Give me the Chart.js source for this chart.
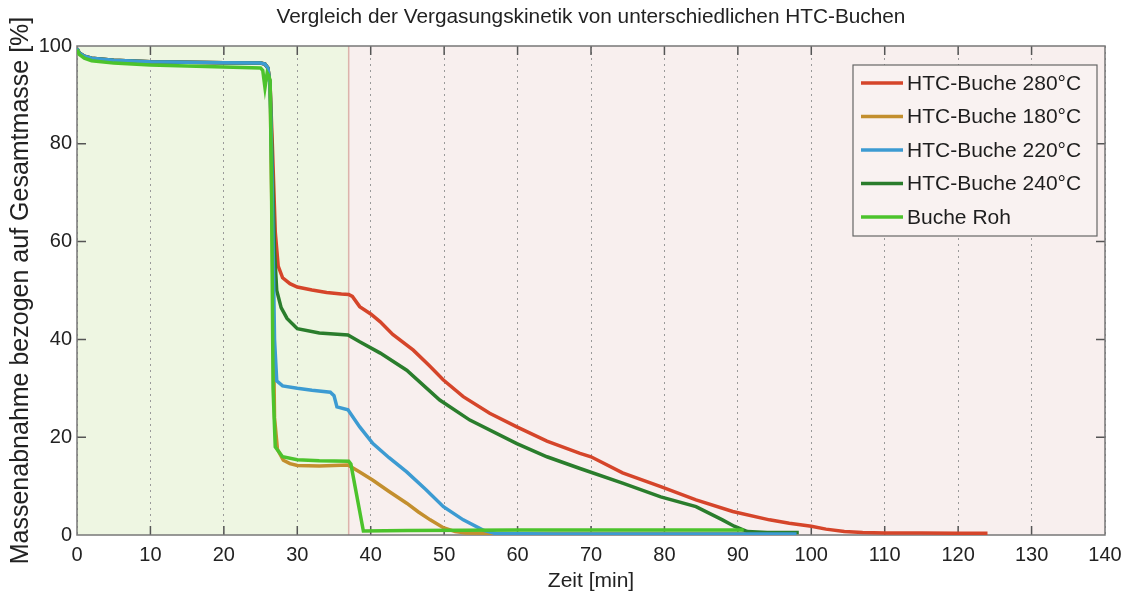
<!DOCTYPE html>
<html>
<head>
<meta charset="utf-8">
<script src="https://cdn.jsdelivr.net/npm/chart.js@4.4.0/dist/chart.umd.min.js"></script>
<style>
  html, body { margin: 0; padding: 0; background: #fff; }
  #wrap { width: 1134px; height: 597px; }
</style>
</head>
<body>
<div id="wrap"><canvas id="vergasung"></canvas></div>
<script>
// Vergleich der Vergasungskinetik - Massenabnahme über Zeit

const chartTitle = 'Vergleich der Vergasungskinetik von unterschiedlichen HTC-Buchen';
const xTitle = 'Zeit [min]';
const yTitle = 'Massenabnahme bezogen auf Gesamtmasse [%]';
const phaseSwitch = 37; // Wechsel grüner / roter Bereich [min]

const labels = ['HTC-Buche 280°C', 'HTC-Buche 180°C', 'HTC-Buche 220°C', 'HTC-Buche 240°C', 'Buche Roh'];
const colors = ['#d5452a', '#c38f2e', '#3c9bd2', '#2a7d2c', '#4cc32c'];

// HTC-Buche 280°C
const t280 = [0, 0.3, 1, 2, 5, 10, 15, 20, 25, 25.6, 26.0, 26.3, 26.6, 27.0, 27.4, 28, 29, 30, 32, 34, 36, 37, 37.5, 38.5, 40, 41.3, 43, 45.8, 48, 49.9, 52.6, 56.2, 59.9, 64, 68.5, 70, 74.3, 79.5, 84.3, 89.3, 94.3, 97, 100, 102, 104.5, 107, 110, 115, 120, 124];
const m280 = [99.5, 98.6, 97.9, 97.5, 97.1, 96.8, 96.7, 96.6, 96.5, 96.3, 95.5, 92, 80, 62, 55, 52.6, 51.4, 50.7, 50.1, 49.6, 49.3, 49.2, 48.8, 46.7, 45.2, 43.6, 41, 37.8, 34.6, 31.7, 28.3, 24.9, 22.1, 19.2, 16.7, 16.0, 12.7, 9.9, 7.2, 4.8, 3.1, 2.4, 1.8, 1.2, 0.7, 0.5, 0.4, 0.4, 0.35, 0.35];

// HTC-Buche 180°C
const t180 = [0, 0.3, 1, 2, 5, 10, 15, 20, 25, 25.6, 26.0, 26.3, 26.6, 26.9, 27.3, 28.1, 29, 30, 33, 36.9, 38.5, 40.3, 42.5, 44.9, 46.5, 48.1, 49.9, 51.5, 53, 60, 70, 80, 90, 98];
const m180 = [99.5, 98.6, 97.9, 97.5, 97.1, 96.8, 96.7, 96.6, 96.5, 96.3, 95.5, 92, 60, 24, 17.5, 15.3, 14.6, 14.2, 14.1, 14.3, 12.9, 11.2, 8.9, 6.5, 4.7, 3.1, 1.5, 0.7, 0.4, 0.3, 0.3, 0.3, 0.3, 0.3];

// HTC-Buche 220°C
const t220 = [0, 0.3, 1, 2, 5, 10, 15, 20, 25, 25.6, 26.0, 26.3, 26.6, 26.9, 27.2, 28, 30, 32, 34.5, 35.0, 35.4, 36.9, 38.5, 40.3, 42.5, 44.9, 47.5, 49.9, 52.6, 55.3, 57, 65, 75, 85, 98];
const m220 = [99.5, 98.6, 97.9, 97.5, 97.1, 96.8, 96.7, 96.6, 96.5, 96.3, 95.5, 92, 70, 40, 31.5, 30.5, 30, 29.6, 29.2, 28.5, 26.2, 25.6, 22.1, 18.7, 15.8, 12.9, 9.3, 5.8, 3.1, 1.0, 0.3, 0.2, 0.2, 0.2, 0.2];

// HTC-Buche 240°C
const t240 = [0, 0.3, 1, 2, 5, 10, 15, 20, 25, 25.6, 26.0, 26.3, 26.6, 26.9, 27.2, 27.8, 28.6, 30, 33, 36.9, 38.5, 41.3, 44.9, 49.4, 53.5, 59.9, 64, 68.5, 74.3, 79.5, 84.3, 87.9, 89.5, 91.3, 94, 98.3];
const m240 = [99.5, 98.6, 97.9, 97.5, 97.1, 96.8, 96.7, 96.6, 96.5, 96.3, 95.5, 92, 75, 58, 50, 46.5, 44.3, 42.2, 41.3, 40.9, 39.5, 37.2, 33.7, 27.6, 23.5, 18.7, 16.0, 13.6, 10.6, 7.8, 5.8, 3.1, 1.8, 0.7, 0.5, 0.5];

// Buche Roh
const tRoh = [0, 0.3, 1, 2, 5, 10, 15, 20, 25, 25.3, 25.6, 25.9, 26.1, 26.3, 26.5, 26.7, 27.0, 28, 30, 33, 37, 37.3, 39, 45, 60, 75, 90.8];
const mRoh = [99.3, 98.3, 97.5, 97.0, 96.5, 96.1, 95.9, 95.7, 95.5, 95.0, 91.5, 94.5, 94, 93, 70, 30, 18, 16, 15.4, 15.2, 15.1, 14.5, 0.8, 0.9, 1.0, 1.0, 1.0];

const series = [[t280, m280], [t180, m180], [t220, m220], [t240, m240], [tRoh, mRoh]];
const drawOrder = [2, 3, 1, 1, 0]; // Roh oben

const xTicks = [0, 10, 20, 30, 40, 50, 60, 70, 80, 90, 100, 110, 120, 130, 140];
const yTicks = [0, 20, 40, 60, 80, 100];

const fontFamily = '"Liberation Sans", Arial, sans-serif';

const backdrop = {
    id: 'backdrop',
    beforeDraw(chart) {
        const { ctx, chartArea: a, scales: { x } } = chart;
        const xs = x.getPixelForValue(phaseSwitch);
        ctx.save();
        ctx.fillStyle = '#eef6e2';
        ctx.fillRect(a.left, a.top, xs - a.left, a.bottom - a.top);
        ctx.fillStyle = '#f8efee';
        ctx.fillRect(xs, a.top, a.right - xs, a.bottom - a.top);
        // Titel mittig über der Zeichenfläche
        ctx.fillStyle = '#222';
        ctx.font = '20.8px ' + fontFamily;
        ctx.textAlign = 'center';
        ctx.textBaseline = 'middle';
        ctx.fillText(chartTitle, (a.left + a.right) / 2, 17);
        ctx.restore();
    },
    beforeDatasetsDraw(chart) {
        const { ctx, chartArea: a, scales: { x, y } } = chart;
        ctx.save();
        // Trennlinie
        const xs = x.getPixelForValue(phaseSwitch);
        ctx.strokeStyle = '#dcb3ab';
        ctx.lineWidth = 1.5;
        ctx.beginPath();
        ctx.moveTo(xs, a.top);
        ctx.lineTo(xs, a.bottom);
        ctx.stroke();
        // innere Tickmarken
        ctx.strokeStyle = '#555';
        ctx.lineWidth = 1.5;
        ctx.beginPath();
        xTicks.slice(1, -1).forEach(v => {
            const px = x.getPixelForValue(v);
            ctx.moveTo(px, a.bottom); ctx.lineTo(px, a.bottom - 9);
            ctx.moveTo(px, a.top); ctx.lineTo(px, a.top + 9);
        });
        yTicks.slice(1, -1).forEach(v => {
            const py = y.getPixelForValue(v);
            ctx.moveTo(a.left, py); ctx.lineTo(a.left + 9, py);
            ctx.moveTo(a.right, py); ctx.lineTo(a.right - 9, py);
        });
        ctx.stroke();
        // Rahmen
        ctx.strokeStyle = '#777';
        ctx.lineWidth = 1.5;
        ctx.strokeRect(a.left, a.top, a.right - a.left, a.bottom - a.top);
        ctx.restore();
    },
    afterDraw(chart) {
        // Legende oben rechts
        const { ctx } = chart;
        const bx = 853, by = 65, bw = 244, bh = 171;
        ctx.save();
        ctx.fillStyle = '#f9f2f1';
        ctx.fillRect(bx, by, bw, bh);
        ctx.strokeStyle = '#666';
        ctx.lineWidth = 1.2;
        ctx.strokeRect(bx, by, bw, bh);
        ctx.font = '21px ' + fontFamily;
        ctx.textBaseline = 'middle';
        labels.forEach((lab, i) => {
            const ly = 83 + i * 33.5;
            ctx.strokeStyle = colors[i];
            ctx.lineWidth = 3.5;
            ctx.beginPath();
            ctx.moveTo(861, ly);
            ctx.lineTo(903, ly);
            ctx.stroke();
            ctx.fillStyle = '#1e1e1e';
            ctx.fillText(lab, 907, ly + 1);
        });
        ctx.restore();
    }
};

new Chart(document.getElementById('vergasung'), {
    type: 'line',
    data: {
        datasets: series.map((s, i) => ({
            label: labels[i],
            data: s[0].map((t, k) => ({ x: t, y: s[1][k] })),
            borderColor: colors[i],
            backgroundColor: colors[i],
            borderWidth: 3.5,
            pointRadius: 0,
            tension: 0,
            order: drawOrder[i]
        }))
    },
    options: {
        responsive: true,
        maintainAspectRatio: false,
        animation: false,
        events: [],
        layout: { padding: { left: 0, right: 29, top: 46, bottom: 0 } },
        plugins: {
            legend: { display: false },
            tooltip: { enabled: false },
            title: { display: false }
        },
        scales: {
            x: {
                type: 'linear',
                min: 0,
                max: 140,
                afterFit: s => { s.height = 62; },
                afterBuildTicks: s => { s.ticks = xTicks.map(v => ({ value: v })); },
                grid: { color: '#9a9a9a', drawTicks: false, lineWidth: 1 },
                border: { display: false, dash: [2, 4] },
                ticks: { color: '#222', padding: 8, font: { family: fontFamily, size: 20 } },
                title: {
                    display: true,
                    text: xTitle,
                    color: '#222',
                    font: { family: fontFamily, size: 21 },
                    padding: { top: 0, bottom: 3 }
                }
            },
            y: {
                min: 0,
                max: 100,
                afterFit: s => { s.width = 77; },
                afterBuildTicks: s => { s.ticks = yTicks.map(v => ({ value: v })); },
                grid: { display: false, drawTicks: false },
                border: { display: false },
                ticks: { color: '#222', padding: 5, font: { family: fontFamily, size: 20 } },
                title: {
                    display: true,
                    text: yTitle,
                    color: '#222',
                    font: { family: fontFamily, size: 25 },
                    padding: { top: 6, bottom: 0 }
                }
            }
        }
    },
    plugins: [backdrop]
});
</script>
</body>
</html>
